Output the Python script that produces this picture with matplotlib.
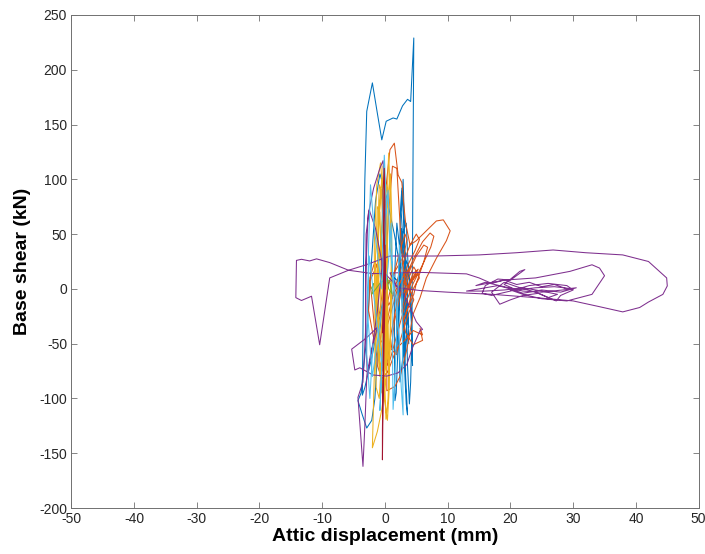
import matplotlib
matplotlib.use('Agg')
import matplotlib.pyplot as plt
import numpy as np

plt.rcParams['font.family'] = ['Liberation Sans', 'DejaVu Sans']
plt.rcParams['axes.unicode_minus'] = False

# ---- data: (displacement mm, shear kN) ----
blue_pts = [
    (0, 0), (-0.8, -25), (-2, -60), (-3.2, -90), (-3.6, -97), (-3.5, -40), (-3.4, 30),
    (-3.2, 100), (-2.9, 162), (-2.0, 188), (-1.2, 160), (-0.5, 136), (0.2, 153),
    (1.3, 156), (1.9, 155), (2.8, 167), (3.6, 173), (4.1, 171), (4.6, 229), (4.5, 140),
    (4.4, 40), (4.3, -40), (4.1, -85), (3.9, -105), (3.6, -70), (3.3, 0), (3.0, 60),
    (2.7, 92), (2.5, 75), (2.3, 20), (2.1, -50), (1.8, -95), (1.6, -102), (1.5, -50),
    (1.6, 20), (1.9, 60), (2.3, 40), (2.7, -10), (3.1, -70), (3.4, -105), (3.6, -115),
    (3.3, -80), (3.0, -20), (2.8, 35), (2.6, 55), (2.3, 20), (2.0, -40), (1.8, -60),
    (1.9, -10), (2.3, 25), (2.9, 45), (3.3, 30), (3.6, -10), (3.8, -50), (3.5, -40),
    (3.1, -5), (2.7, 15), (2.2, -10), (2.0, -30), (2.5, 0), (3.2, 20), (3.9, 10),
    (4.2, -30), (4.4, -70), (4.2, -20), (3.8, 20), (3.0, 30), (2.6, 70), (2.9, 100),
    (3.1, 60), (3.2, -20), (2.9, -60), (2.4, -85), (2.2, -40), (2.4, 20), (2.8, 50),
    (3.4, 60), (3.7, 20), (3.5, -30), (3.2, -60), (2.8, -30), (3.0, 0), (1.5, 50),
    (0.2, 85), (-0.8, 105), (-1.5, 80), (-2.2, 20), (-3.0, -50), (-3.8, -95),
    (-4.3, -102), (-3.6, -115), (-2.9, -127), (-2.1, -120), (-1.6, -100), (-1.2, -60),
    (-0.5, -20), (0.5, 5), (1.5, 10), (2.5, 5), (3.4, -10), (3.8, -35), (3.3, -20),
    (2.6, 0),
]

orange_pts = [
    (0, 0), (1, 10), (2, 20), (3, 30), (3.5, 45), (3.2, 50), (2.4, 35), (1.5, 15),
    (0.5, -10), (-0.5, -35), (-0.8, -50), (-0.2, -45), (0.8, -25), (2, 0), (3.5, 20),
    (4.8, 35), (5.5, 45), (5, 50), (4, 40), (2.8, 22), (1.5, 0), (0.3, -30), (-0.5, -60),
    (-0.2, -75), (0.8, -65), (2, -40), (3.2, -15), (4.5, 5), (6, 22), (7.3, 38), (7.8, 48),
    (7.2, 51), (6, 43), (4.6, 28), (3.2, 10), (2, -10), (1, -40), (0.3, -70), (0.3, -93),
    (1.6, -89), (2.4, -80), (3.5, -55), (4.5, -23), (5.6, -8), (6.6, 10), (8.2, 28),
    (9.8, 44), (10.4, 53), (9.3, 63), (8.2, 62), (6.6, 53), (5, 44), (4, 40), (3.3, 60),
    (2.9, 83), (2.7, 97), (2.1, 104), (1.5, 133), (0.8, 127), (0.3, 100), (-0.3, 60),
    (-1, 25), (-2.4, 7), (-2.1, -8), (-1.6, -40), (-1.2, -70), (-0.5, -82), (0.5, -75),
    (1.9, -54), (3.5, -45), (4.5, -38), (6, -42), (5.6, -36), (6, -47), (4.5, -51),
    (3.3, -40), (2.7, -20), (3.3, -5), (4.2, 8), (5, 16), (4.6, 20), (3.6, 8), (3, -4),
    (3.8, 3), (4.8, 12), (5.3, 18), (4.5, 14), (3.6, 2), (3.2, -8), (4.2, 6), (5.2, 14),
    (5.5, 10), (4.5, 0), (4, -10), (3.5, -20), (3, -28), (3.8, -15), (4.6, -5), (5, 5),
    (6.2, 25), (6.8, 38), (6.2, 40), (5, 30), (3.8, 15), (2.5, -5), (1.5, -30),
    (1.0, -55), (1.8, -60), (2.8, -40), (3.8, -22), (4.6, -10), (3.9, 0), (3.2, 5),
    (2.6, 40), (2.2, 80), (1.9, 110), (1.2, 112), (0.6, 70), (0.1, 20), (-0.8, -20),
    (-1.8, -45), (-2.6, -20), (-2.4, 10), (-1.6, 25), (-0.5, 10), (0.6, -15), (1.8, 0),
    (3.0, 12), (4.0, 20),
]

yellow_pts = [
    (0, 0), (0.3, 60), (0.5, 110), (0.6, 124), (0.8, 90), (1, 20), (0.8, -50),
    (0.5, -100), (0.16, -119), (0, -90), (-0.3, -30), (-0.5, 40), (-0.3, 112), (0, 100),
    (0.3, 40), (0.4, -40), (0.2, -80), (-0.5, -110), (-1.2, -130), (-2, -145),
    (-1.8, -100), (-1.5, -40), (-1.2, 20), (-0.8, 80), (-0.5, 100), (-0.2, 60), (0, 0),
    (0.2, -60), (-0.3, -90), (-1, -60), (-1.3, 0), (-1, 60), (-0.6, 90), (-0.2, 50),
    (0.1, -20), (-0.2, -70), (-0.8, -80), (-1.4, -40), (-1.5, 30), (-1.2, 75),
    (-0.8, 70), (-0.5, 10), (-0.2, -50), (-0.6, -60), (-1, -20), (-1, 30), (-0.6, 40),
    (-0.3, 0), (0.2, 70), (0.9, 105), (1.1, 60), (1.0, -20), (0.7, -75), (0.4, -60),
    (0.1, 0), (-0.4, 85), (-0.9, 95), (-1.2, 40), (-1.0, -40), (-0.6, -95), (0.1, -70),
    (0.3, 20), (0.6, 80), (0.2, 95), (-0.2, 30), (-0.4, -50), (-0.9, -100), (-1.4, -90),
    (-1.6, -30), (-1.7, 40), (-1.3, 95), (-0.7, 115), (-0.2, 80), (0.4, 0), (0.7, -90),
    (0.4, -120), (-0.1, -100), (-0.6, -30), (-0.8, 30), (-0.3, 70), (0.2, 10),
    (0.0, -40),
]

purple_pts = [
    (0, 0), (-0.5, 25), (-1.5, 55), (-2.5, 72), (-3, 50), (-3.1, 0), (-3, -50),
    (-2.8, -80), (-2.2, -60), (-1.2, -20), (-0.3, 30), (0, 80), (-0.3, 117), (-0.8, 110),
    (-1.8, 92), (-2.7, 67), (-3, 20), (-3.1, -40), (-3.5, -85), (-4.3, -99), (-3.9, -130),
    (-3.5, -162), (-3.2, -125), (-2.9, -81), (-2.3, -60), (-1.2, -35), (-3.0, -45),
    (-5.3, -55), (-4.8, -74), (-4, -72), (-1.9, -78.6), (0.3, -79.6), (2.1, -76.6),
    (3.5, -69), (4.3, -55), (5.6, -38), (6, -37), (5, -30), (4, -17), (3, -5), (1.5, 5),
    (0, 14), (-2, 14), (-5.8, 17), (-8.8, 24), (-10.9, 27.4), (-12, 25.5), (-13.3, 27),
    (-14.1, 26), (-14.2, -8), (-13.3, -10.6), (-11.7, -6.7), (-10.4, -51), (-8.8, 10),
    (-5.8, 17), (-3, 22), (0.8, 30), (8, 30), (15, 31), (21, 33), (26.8, 35.5), (32, 33),
    (37.9, 31), (42, 25), (44.9, 10), (45, 2.7), (44.3, -5), (42, -12), (40.6, -17),
    (37.9, -21), (34, -16), (30, -11), (24, -8), (17.2, -5), (10, -3), (5.6, -1.5),
    (2, 1), (0.8, 14.6), (6, 15), (13, 13.7), (15, 10), (17, 5), (19, 8), (21, 4),
    (23, 6), (25, 2), (27, 4), (29, 0), (30.5, 1), (28, -3), (25, -1), (22, -4), (20, 0),
    (18, 3), (16, 1), (14, -1), (13, -2), (16, -2), (19, -1), (22, 1), (25, -2),
    (27.5, -5), (26, -8), (24, -3), (21, 2), (19, 6), (17, -3), (18.3, -14), (20, -10),
    (22, -6), (24.5, -4), (27.3, -11), (28, -6), (30, -1), (29, 3), (26, 5), (23, 3),
    (20, -2), (17, -6), (15.5, -4), (16, 3), (18, 9), (20, 8), (22.3, 17.6), (21.5, 16),
    (19, 4), (21, -1), (24, 1), (27, 2), (30, 0), (25, -3), (22, -2), (19, 2), (16, 6),
    (14.5, 3), (19, 8), (24, 10), (29.5, 16), (33, 22), (34.2, 19), (35, 12), (33, -5),
    (29, -11), (25, -9), (22, -5), (20, -1),
]

green_pts = [
    (0.3, 10), (0.8, 5), (1.2, -5), (0.6, 0), (0.3, 10), (-0.8, 5), (-2.1, -5),
    (-1.8, 5), (-2.2, 0),
]

lightblue_pts = [
    (0, 0), (-0.5, 50), (-0.1, 122), (0.2, 80), (0, 0), (-0.4, -60), (-0.8, -111),
    (-0.5, -70), (-1.5, -20), (-2.5, 30), (-2.8, -20), (-2, -80), (-1, -40), (0.5, 20),
    (1, 60), (1.3, 0), (1.2, -60), (1.3, -110), (1.6, -80), (2, -20), (2.3, 40),
    (2.7, 20), (2.8, -50), (2.9, -115), (2.6, -90), (2.2, -40), (1.5, 0), (0.8, 40),
    (0.5, 90), (0, 60), (-0.5, 0), (-1.8, 60), (-2.3, 95), (-2.6, 40), (-2.9, -60),
    (-2.4, -100), (-1.9, -50),
]

darkred_pts = [
    (0, 0), (-0.2, 40), (-0.3, 90), (-0.1, 110), (0, 60), (-0.2, -20), (-0.3, -80),
    (-0.4, -130), (-0.4, -156), (-0.3, -100), (-0.1, -40), (0.1, 20), (0, 40),
    (-0.2, 0), (-0.4, -40),
]

series = [blue_pts, orange_pts, yellow_pts, purple_pts, green_pts, lightblue_pts, darkred_pts]
colors = ['#0072BD', '#D95319', '#EDB120', '#7E2F8E', '#77AC30', '#4DBEEE', '#A2142F']

fig = plt.figure(figsize=(7.05, 5.54), dpi=100)
ax = fig.add_axes([0.101, 0.083, 0.890, 0.890])

for pts, c in zip(series, colors):
    arr = np.array(pts)
    ax.plot(arr[:, 0], arr[:, 1], color=c, lw=0.75)

ax.set_xlim(-50, 50)
ax.set_ylim(-200, 250)
ax.set_xticks(np.arange(-50, 51, 10))
ax.set_yticks(np.arange(-200, 251, 50))
ax.tick_params(direction='in', top=True, right=True, length=4, width=0.6,
               labelsize=10, color='#707070', labelcolor='#262626', pad=3)
for s in ax.spines.values():
    s.set_color('#707070')
    s.set_linewidth(0.7)
ax.set_xlabel('Attic displacement (mm)', fontsize=14, fontweight='bold', labelpad=1)
ax.set_ylabel('Base shear (kN)', fontsize=14, fontweight='bold', labelpad=6)

fig.savefig('out.png', dpi=100, facecolor='white')
